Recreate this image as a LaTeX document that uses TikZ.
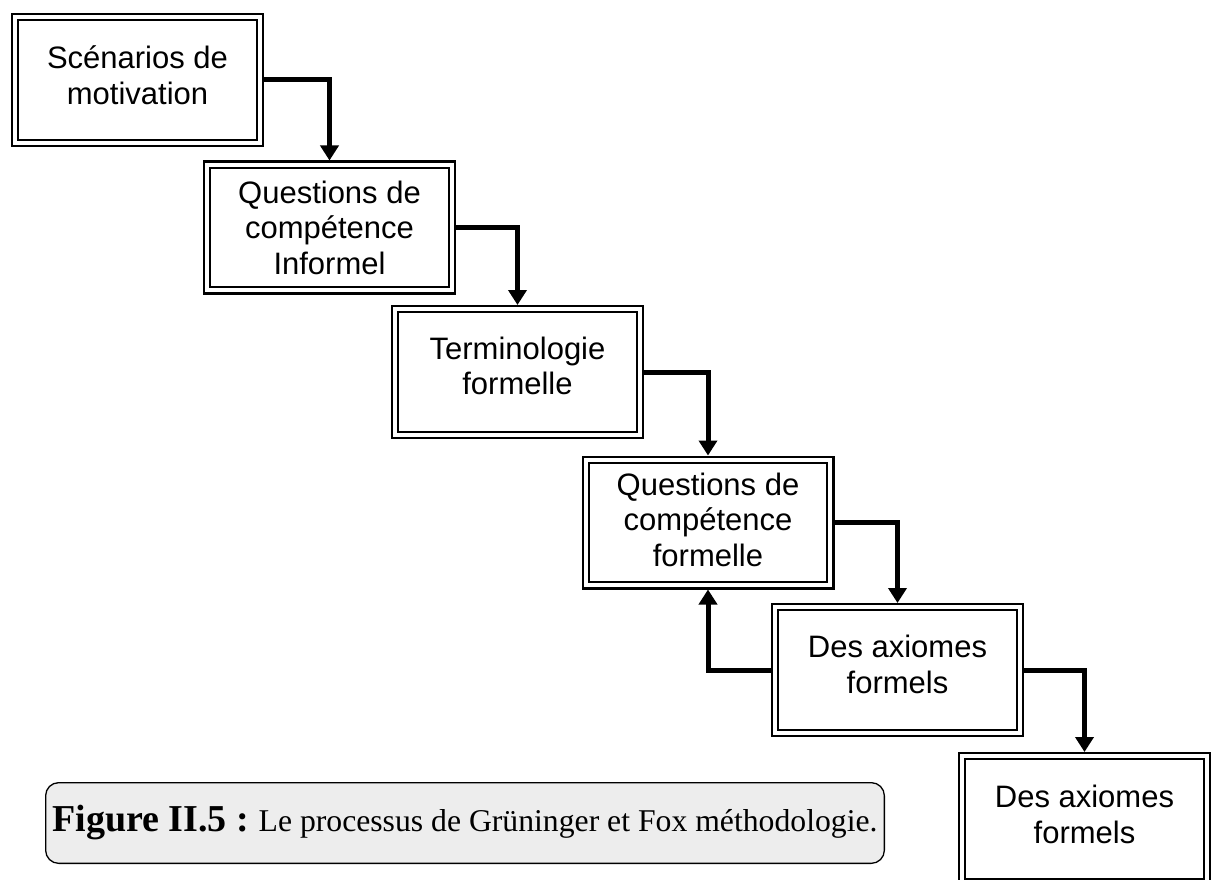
\documentclass[tikz,border=0pt]{standalone}
\usepackage{fontspec}
\setmainfont{Liberation Serif}
\setsansfont{Liberation Sans}
\usetikzlibrary{arrows.meta}
\definecolor{capgray}{HTML}{EDEDED}
\newcommand\lowpad[1]{\rule[-#1]{0pt}{#1}}
\begin{document}
\begin{tikzpicture}[x=1pt,y=-1pt,
  stepbox/.style={draw, double=white, line width=2.2pt, double distance=4pt,
    minimum width=244.6pt, minimum height=125.6pt, outer sep=4.2pt, inner sep=0pt,
    align=center, font=\sffamily\fontsize{31}{35.5}\selectfont},
  conn/.style={line width=5pt, line join=miter, -{Triangle[length=15pt,width=18pt]}},
  captionbox/.style={draw, line width=1.3pt, rounded corners=13pt, fill=capgray,
    minimum width=838.7pt, minimum height=80.7pt, inner sep=0pt}]
\path[use as bounding box, clip] (0,0) rectangle (1211,880);
\fill[white] (0,0) rectangle (1211,880);

\node[stepbox] (b1) at (137.5,80)  {Scénarios de\\motivation\lowpad{10pt}};
\node[stepbox] (b2) at (329.5,227.5) {Questions de\\compétence\\Informel};
\node[stepbox] (b3) at (517.5,372) {Terminologie\\formelle\lowpad{12pt}};
\node[stepbox] (b4) at (708,522.5) {Questions de\\compétence\\formelle\lowpad{6pt}};
\node[stepbox] (b5) at (897.5,670) {Des axiomes\\formels\lowpad{11pt}};
\node[stepbox] (b6) at (1084.5,819) {Des axiomes\\formels\lowpad{9pt}};

\draw[conn] (b1.east) -| (b2.north);
\draw[conn] (b2.east) -| (b3.north);
\draw[conn] (b3.east) -| (b4.north);
\draw[conn] (b4.east) -| (b5.north);
\draw[conn] (b5.east) -| (b6.north);
\draw[conn] (b5.west) -| (b4.south);

\node[captionbox] (cap) at (465,823)
  {{\bfseries\fontsize{38}{42}\selectfont Figure II.5 :\ }{\fontsize{31.7}{36}\selectfont Le processus de Grüninger et Fox méthodologie.}};
\end{tikzpicture}
\end{document}
